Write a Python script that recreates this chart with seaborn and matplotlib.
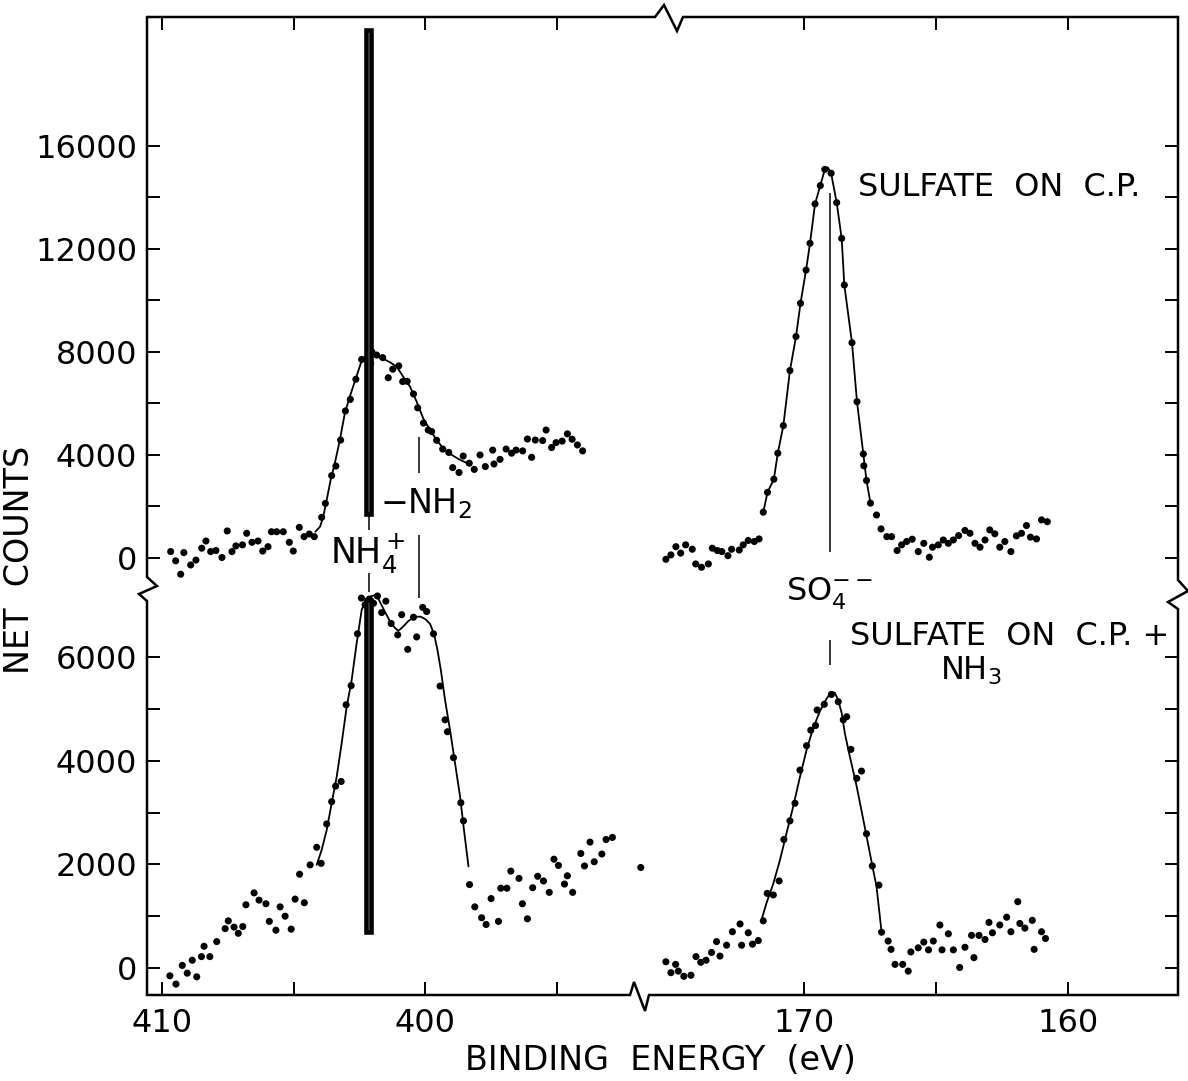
import numpy as np
import pandas as pd
import matplotlib
matplotlib.use("Agg")
import matplotlib.pyplot as plt
from matplotlib.lines import Line2D
import seaborn as sns

# ---------------- data (binding energy in eV, net counts) ----------------
# N 1s region, "sulfate on C.P." (upper trace)
tl_E = [409.67,409.48,409.29,409.17,408.91,408.71,408.49,408.33,408.15,407.95,407.72,407.52,407.34,407.19,
        406.94,406.78,406.58,406.35,406.17,405.97,405.84,405.64,405.39,405.16,405.01,404.78,404.60,404.40,
        404.21,403.93,403.79,403.55,403.39,403.21,403.03,402.84,402.63,402.41,402.22,402.13,402.07,402.02,
        401.84,401.61,401.40,401.23,401.00,400.85,400.68,400.44,400.28,400.06,399.88,399.75,399.56,399.33,
        399.10,398.95,398.71,398.55,398.32,398.13,397.91,397.71,397.43,397.38,397.15,396.92,396.71,396.54,
        396.29,396.11,395.95,395.81,395.53,395.40,395.19,395.02,394.79,394.59,394.41,394.21,394.01]
tl_C = [250,-110,-630,210,-270,-80,380,660,250,290,20,1050,250,470,510,960,610,660,270,440,1020,1020,1020,
        610,270,1190,830,930,830,1580,2120,3200,3570,4580,5710,6160,6940,7710,7750,7300,7560,8000,7880,7780,
        7000,7330,7460,6850,6860,6370,5830,5240,4970,4910,4570,4230,4100,3510,3320,3960,3680,3440,4000,3550,
        4190,3650,3830,4230,4070,4190,4160,4620,3910,4580,4560,4970,4290,4480,4540,4820,4610,4390,4160]
tl_fit_E = [404.17,403.99,403.87,403.74,403.59,403.43,403.24,403.05,402.86,402.63,402.41,402.20,401.97,
            401.71,401.33,401.08,400.83,400.57,400.32,400.07,399.81,399.56,399.31,399.05,398.67,398.32]
tl_fit_C = [1020,1220,1610,2250,3030,3680,4580,5620,6270,6980,7660,7840,7920,7790,7600,7430,7040,6650,
            6070,5420,4970,4580,4260,4040,3810,3650]

# S 2p region, "sulfate on C.P." (upper trace)
tr_E = [175.23,175.04,174.85,174.67,174.48,174.23,174.10,173.88,173.62,173.47,173.28,173.11,172.88,172.74,
        172.45,172.30,172.11,171.88,171.70,171.54,171.38,171.14,170.99,170.78,170.53,170.30,170.13,169.92,
        169.77,169.58,169.38,169.21,168.97,168.76,168.57,168.47,168.18,167.99,167.75,167.73,167.63,167.48,
        167.25,167.08,166.86,166.68,166.47,166.30,166.11,165.90,165.67,165.46,165.25,165.13,164.91,164.72,
        164.53,164.34,164.14,163.90,163.71,163.52,163.33,163.14,162.96,162.77,162.58,162.39,162.16,161.95,
        161.76,161.57,161.42,161.19,161.00,160.78]
tr_C = [-50,120,440,190,510,340,-230,-360,-230,380,290,250,90,340,310,510,680,640,740,1780,2550,3060,4070,
        5140,7280,8600,9890,11180,12220,13750,14460,15090,14940,13800,12410,10600,8360,6070,4040,3580,3010,
        2130,1670,1130,830,830,290,510,640,730,250,570,30,420,510,700,570,700,870,1070,960,570,420,700,1090,
        940,420,640,250,860,960,1260,810,740,1480,1410]
tr_fit_E = [171.54,171.38,171.14,170.99,170.78,170.53,170.30,170.13,169.92,169.77,169.58,169.38,169.21,
            169.10,168.97,168.76,168.57,168.47,168.18,167.99,167.75,167.63,167.48]
tr_fit_C = [1780,2550,3060,4070,5140,7280,8600,9890,11180,12220,13750,14460,15090,15170,14940,13800,12410,
            10600,8360,6070,4040,3010,2130]

# N 1s region, "sulfate on C.P. + NH3" (lower trace)
bl_E = [409.70,409.47,409.23,409.04,408.85,408.68,408.50,408.40,408.18,407.92,407.60,407.48,407.26,407.10,
        406.93,406.81,406.50,406.31,406.05,405.92,405.67,405.51,405.32,405.09,404.94,404.77,404.59,404.37,
        404.12,403.95,403.74,403.55,403.40,403.19,403.00,402.81,402.57,402.42,402.28,402.12,401.96,401.81,
        401.65,401.49,401.29,401.04,400.89,400.66,400.44,400.32,400.09,399.94,399.68,399.43,399.24,399.15,
        398.92,398.64,398.54,398.31,398.11,397.85,397.68,397.49,397.21,397.12,396.89,396.74,396.43,396.30,
        396.11,395.91,395.72,395.50,395.28,395.10,394.93,394.70,394.59,394.39,394.08,393.94,393.73,393.57,
        393.28,393.12,392.88,391.80]
bl_C = [-150,-310,50,-100,150,-170,220,420,220,510,760,910,790,670,800,1220,1450,1310,1240,900,730,1180,1000,
        750,1330,1810,1260,1990,2330,2020,2780,3210,3510,3600,5080,5450,6450,7140,7010,7120,7040,7180,6860,
        7080,6650,6430,6820,6150,6770,6390,6960,6880,6450,5440,4790,4560,4060,3190,2840,1610,1180,970,840,
        1340,900,1540,1540,1870,1730,1240,950,1550,1770,1680,1460,2100,1980,1620,1780,1460,2210,1970,2430,
        2050,2200,2480,2520,1940]
bl_fit_E = [404.12,403.93,403.74,403.55,403.36,403.17,402.98,402.79,402.60,402.41,402.24,402.03,401.84,
            401.69,401.50,401.31,401.14,401.01,400.83,400.63,400.38,400.16,399.98,399.81,399.66,399.53,
            399.40,399.24,399.05,398.86,398.67,398.52,398.35]
bl_fit_C = [1990,2280,2660,3180,3690,4340,5040,5560,6270,6910,7130,7180,7200,7040,6850,6670,6560,6510,6590,
            6700,6780,6780,6730,6640,6450,6140,5750,5170,4590,3950,3310,2660,1960]

# S 2p region, "sulfate on C.P. + NH3" (lower trace)
br_E = [175.23,175.04,174.86,174.76,174.55,174.28,174.09,173.91,173.71,173.50,173.31,173.18,172.93,172.71,
        172.42,172.36,172.11,171.95,171.73,171.54,171.39,171.16,170.94,170.76,170.53,170.34,170.15,169.90,
        169.74,169.56,169.50,169.23,168.96,168.70,168.51,168.38,168.22,168.00,167.82,167.63,167.41,167.16,
        167.06,166.81,166.70,166.55,166.26,166.05,165.95,165.67,165.46,165.28,165.10,164.85,164.77,164.53,
        164.34,164.10,163.90,163.65,163.56,163.37,163.14,162.99,162.86,162.58,162.32,162.16,161.90,161.82,
        161.63,161.35,161.28,161.00,160.85]
br_C = [120,-90,70,-60,-160,-140,220,110,150,300,510,230,440,700,850,440,680,460,530,910,1440,1410,1680,2480,
        2840,3180,3820,4290,4590,4680,4980,5090,5280,5140,4790,4850,4220,3660,3800,2590,1970,1600,690,520,360,
        70,70,-60,310,390,500,350,520,830,350,660,350,10,400,630,200,630,550,880,680,830,980,700,1280,860,770,
        920,360,700,570]
br_fit_E = [171.60,171.42,171.16,170.91,170.66,170.41,170.15,169.90,169.65,169.40,169.14,168.96,168.83,
            168.70,168.57,168.45,168.26,168.00,167.75,167.50,167.25,167.06]
br_fit_C = [940,1250,1630,2080,2600,3110,3690,4210,4630,4950,5200,5330,5310,5170,4920,4530,4080,3500,2860,
            2210,1570,700]

# marker positions (eV)
nh4_E = 402.15
nh2_E = 400.23
so4_E = 169.02

# axis ticks / labels
x_left_ticks = [410, 405, 400, 395]
x_left_labels = ["410", "", "400", ""]
x_right_ticks = [170, 165, 160]
x_right_labels = ["170", "", "160"]
y_top_ticks = [0, 2000, 4000, 6000, 8000, 10000, 12000, 14000, 16000]
y_top_labels = ["0", "", "4000", "", "8000", "", "12000", "", "16000"]
y_bot_ticks = [0, 1000, 2000, 3000, 4000, 5000, 6000]
y_bot_labels = ["0", "", "2000", "", "4000", "", "6000"]

# ---------------- figure ----------------
sns.set_theme(style="ticks")
plt.rcParams["font.family"] = ["DejaVu Sans"]
plt.rcParams["mathtext.default"] = "regular"
plt.rcParams["text.color"] = "black"
plt.rcParams["axes.labelcolor"] = "black"
plt.rcParams["xtick.color"] = "black"
plt.rcParams["ytick.color"] = "black"

W, H = 1188, 1081
fig = plt.figure(figsize=(W / 100, H / 100), dpi=100)
fig.patch.set_facecolor("white")


def fx(p):
    return p / W


def fy(p):
    return 1 - p / H


L, M, R = 147, 640, 1178
T, MID, BOT = 17, 592, 995

ax_tl = fig.add_axes([fx(L), fy(MID), fx(M) - fx(L), fy(T) - fy(MID)])
ax_tr = fig.add_axes([fx(M), fy(MID), fx(R) - fx(M), fy(T) - fy(MID)])
ax_bl = fig.add_axes([fx(L), fy(BOT), fx(M) - fx(L), fy(MID) - fy(BOT)])
ax_br = fig.add_axes([fx(M), fy(BOT), fx(R) - fx(M), fy(MID) - fy(BOT)])

for ax in (ax_tl, ax_tr, ax_bl, ax_br):
    ax.set_facecolor("none")
    for s in ax.spines.values():
        s.set_visible(False)

ax_tl.set_xlim(410.57, 391.83)
ax_bl.set_xlim(410.57, 391.83)
ax_tr.set_xlim(176.21, 155.83)
ax_br.set_xlim(176.21, 155.83)
ax_tl.set_ylim(-1320, 21007)
ax_tr.set_ylim(-1320, 21007)
ax_bl.set_ylim(-521, 7257)
ax_br.set_ylim(-521, 7257)

dot_kw = dict(color="black", s=26, edgecolor="none", legend=False, zorder=4)
line_kw = dict(color="black", linewidth=1.3, sort=False, estimator=None, legend=False, zorder=4)

sns.scatterplot(x=tl_E, y=tl_C, ax=ax_tl, **dot_kw)
sns.lineplot(x=tl_fit_E, y=tl_fit_C, ax=ax_tl, **line_kw)
sns.scatterplot(x=tr_E, y=tr_C, ax=ax_tr, **dot_kw)
sns.lineplot(x=tr_fit_E, y=tr_fit_C, ax=ax_tr, **line_kw)
sns.scatterplot(x=bl_E, y=bl_C, ax=ax_bl, clip_on=False, **dot_kw)
sns.lineplot(x=bl_fit_E, y=bl_fit_C, ax=ax_bl, **line_kw)
sns.scatterplot(x=br_E, y=br_C, ax=ax_br, **dot_kw)
sns.lineplot(x=br_fit_E, y=br_fit_C, ax=ax_br, **line_kw)

# NH4+ position bars (heavy outline with a thin light core)
ax_tl.bar([nh4_E], [20500 - 1710], bottom=1710, width=0.21, facecolor="white",
          edgecolor="black", linewidth=3.3, zorder=5)
ax_bl.bar([nh4_E], [7100 - 700], bottom=700, width=0.21, facecolor="white",
          edgecolor="black", linewidth=3.3, zorder=5)

# marker lines
lkw = dict(color="black", linewidth=1.1, zorder=3)
ax_tl.vlines([nh4_E, nh4_E], [1090, -1320], [1710, -580], **lkw)
ax_tl.vlines([nh2_E, nh2_E], [3300, -1320], [4700, 890], **lkw)
ax_bl.vlines([nh2_E], [7150], [7257], **lkw)
ax_tr.vlines([so4_E], [230], [14170], **lkw)
ax_br.vlines([so4_E], [5850], [6330], **lkw)

# labels
ax_tl.text(403.61, -194, r"NH$_4^+$", fontsize=25, ha="left", va="baseline")
ax_tl.text(401.71, 1747, r"$-$NH$_2$", fontsize=24, ha="left", va="baseline")
ax_tr.text(170.68, -1631, r"SO$_4^{--}$", fontsize=23, ha="left", va="baseline")
ax_tr.text(167.95, 14056, "SULFATE  ON  C.P.", fontsize=23, ha="left", va="baseline")
ax_br.text(168.26, 6234, "SULFATE  ON  C.P. +", fontsize=23, ha="left", va="baseline")
ax_br.text(164.85, 5558, r"NH$_3$", fontsize=23, ha="left", va="baseline")

# ticks
tick_kw = dict(direction="in", length=9.5, width=1.4, color="black", labelsize=23, labelcolor="black")
ax_tl.tick_params(axis="y", left=True, right=False, labelleft=True, pad=7, **tick_kw)
ax_tl.tick_params(axis="x", top=True, bottom=False, labelbottom=False, labeltop=False, **tick_kw)
ax_tr.tick_params(axis="y", left=False, right=True, labelleft=False, labelright=False, **tick_kw)
ax_tr.tick_params(axis="x", top=True, bottom=False, labelbottom=False, labeltop=False, **tick_kw)
ax_bl.tick_params(axis="y", left=True, right=False, labelleft=True, pad=7, **tick_kw)
ax_bl.tick_params(axis="x", top=False, bottom=True, labelbottom=True, pad=9, **tick_kw)
ax_br.tick_params(axis="y", left=False, right=True, labelleft=False, labelright=False, **tick_kw)
ax_br.tick_params(axis="x", top=False, bottom=True, labelbottom=True, pad=9, **tick_kw)

for ax in (ax_tl, ax_bl):
    ax.set_xticks(x_left_ticks)
    ax.set_xticklabels(x_left_labels)
for ax in (ax_tr, ax_br):
    ax.set_xticks(x_right_ticks)
    ax.set_xticklabels(x_right_labels)
for ax in (ax_tl, ax_tr):
    ax.set_yticks(y_top_ticks)
    ax.set_yticklabels(y_top_labels)
for ax in (ax_bl, ax_br):
    ax.set_yticks(y_bot_ticks)
    ax.set_yticklabels(y_bot_labels)

# frame with axis-break marks
frame_px = [(147, 17), (655, 17), (664, 5), (677, 31), (683, 17), (1178, 17),
            (1178, 580), (1188, 591), (1168, 602), (1178, 609), (1178, 995),
            (649, 995), (645, 1011), (634, 982), (630, 995), (147, 995),
            (147, 601), (139, 594), (157, 586), (147, 577), (147, 17)]
fig.add_artist(Line2D([fx(p[0]) for p in frame_px], [fy(p[1]) for p in frame_px],
                      transform=fig.transFigure, color="black", linewidth=1.8,
                      solid_joinstyle="miter"))

fig.text(fx(660), fy(1060), "BINDING  ENERGY  (eV)", fontsize=24, ha="center", va="center")
fig.text(fx(20), fy(560), "NET  COUNTS", fontsize=24, ha="center", va="center", rotation=90)

fig.savefig("out.png", dpi=100, facecolor="white")
